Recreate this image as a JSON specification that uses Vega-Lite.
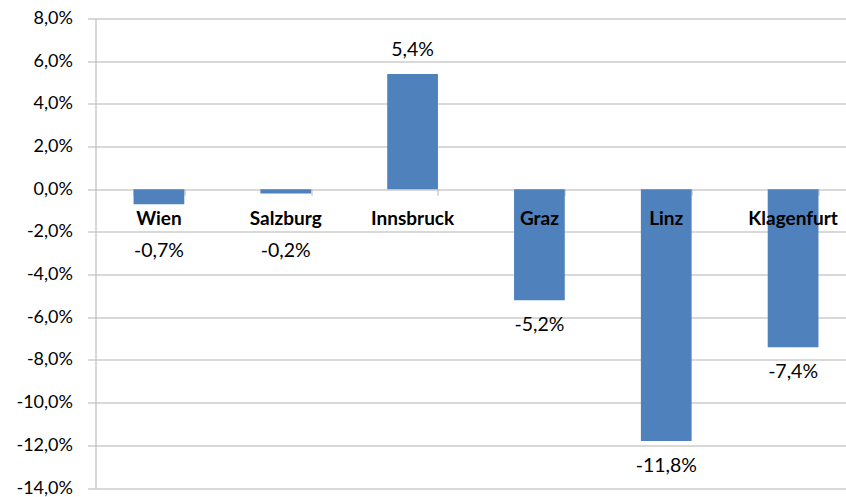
{
  "$schema": "https://vega.github.io/schema/vega-lite/v6.json",
  "width": 750.5,
  "height": 469.5,
  "autosize": {"type": "none"},
  "padding": {"left": 95.5, "top": 18.5, "right": 0, "bottom": 9},
  "background": "white",
  "config": {"view": {"stroke": null}, "font": "Lato"},
  "data": {
    "values": [
      {"city": "Wien", "change": -0.7},
      {"city": "Salzburg", "change": -0.2},
      {"city": "Innsbruck", "change": 5.4},
      {"city": "Graz", "change": -5.2},
      {"city": "Linz", "change": -11.8},
      {"city": "Klagenfurt", "change": -7.4}
    ]
  },
  "transform": [
    {"calculate": "(datum.change < 0 ? '-' : '') + replace(format(abs(datum.change), '.1f'), '.', ',') + '%'", "as": "label"},
    {"calculate": "datum.change < 0 ? min(datum.change, -1.7) : datum.change", "as": "pos"}
  ],
  "encoding": {
    "x": {
      "field": "city",
      "type": "nominal",
      "sort": null,
      "scale": {"range": [0, 761], "paddingInner": 0.6, "paddingOuter": 0.3},
      "axis": {
        "title": null,
        "orient": "bottom",
        "offset": -298.8,
        "labels": false,
        "domain": false,
        "ticks": true,
        "tickSize": 6,
        "tickColor": "#b3b3b3",
        "tickBand": "extent",
        "grid": false,
        "zindex": 0
      }
    }
  },
  "layer": [
    {
      "mark": {"type": "bar", "color": "#4F81BD"},
      "encoding": {
        "y": {
          "field": "change",
          "type": "quantitative",
          "scale": {"domain": [-14, 8], "nice": false, "zero": false},
          "axis": {
            "title": null,
            "values": [-14, -12, -10, -8, -6, -4, -2, 0, 2, 4, 6, 8],
            "labelExpr": "(datum.value < 0 ? '-' : '') + replace(format(abs(datum.value), '.1f'), '.', ',') + '%'",
            "grid": true,
            "gridColor": "#b3b3b3",
            "domainColor": "#b3b3b3",
            "tickColor": "#b3b3b3",
            "tickSize": 8,
            "labelPadding": 15,
            "labelFontSize": 18,
            "labelColor": "#000000",
            "labelFont": "Lato"
          }
        }
      }
    },
    {
      "mark": {"type": "text", "fontWeight": "bold", "fontSize": 19, "dy": 36, "baseline": "alphabetic", "color": "#000000"},
      "encoding": {
        "y": {"datum": 0, "type": "quantitative"},
        "text": {"field": "city"}
      }
    },
    {
      "transform": [{"filter": "datum.change < 0"}],
      "mark": {"type": "text", "fontSize": 19.5, "dy": 31, "baseline": "alphabetic", "color": "#000000"},
      "encoding": {
        "y": {"field": "pos", "type": "quantitative"},
        "text": {"field": "label"}
      }
    },
    {
      "transform": [{"filter": "datum.change >= 0"}],
      "mark": {"type": "text", "fontSize": 19.5, "dy": -18, "baseline": "alphabetic", "color": "#000000"},
      "encoding": {
        "y": {"field": "pos", "type": "quantitative"},
        "text": {"field": "label"}
      }
    }
  ]
}
